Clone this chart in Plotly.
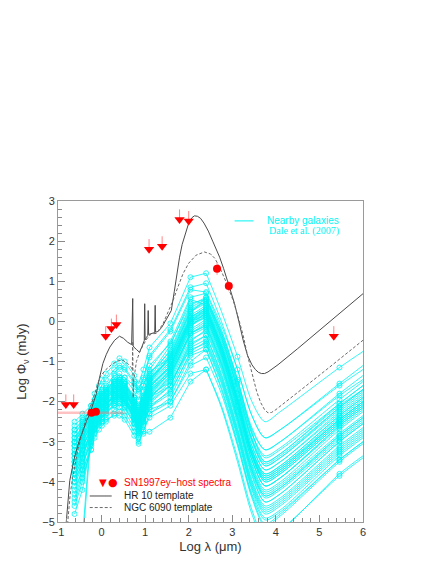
import plotly.graph_objects as go

# observed-frame band positions (log micron) of the Dale et al. photometry
BAND_X = [-0.62, -0.44, -0.24, -0.16, -0.06, 0.01, 0.10, 0.29, 0.41, 0.53,
          0.75, 0.85, 0.96, 1.10, 1.58, 2.04, 2.40]
# model continuation past 160 micron, radio point at 5.46
TAIL_X = [2.75, 3.12, 3.45, 3.75, 4.10, 5.46, 6.00]

GALAXY_BANDS = [
    [-3.0, -2.6, -2.1, -1.8, -1.6, -1.45, -1.3, -1.05, -0.92, -1.0, -1.35, -1.55, -1.2, -0.65, -0.05, 1.10, 1.20],
    [-3.3, -2.9, -2.3, -2.0, -1.75, -1.6, -1.45, -1.2, -1.1, -1.15, -1.5, -1.7, -1.45, -0.9, -0.25, 0.79, 0.73],
    [-2.8, -2.5, -2.2, -1.95, -1.8, -1.7, -1.6, -1.35, -1.3, -1.4, -1.75, -1.95, -1.6, -1.1, -0.55, 0.45, 0.55],
    [-3.6, -3.1, -2.5, -2.2, -2.0, -1.85, -1.75, -1.45, -1.4, -1.5, -1.9, -2.1, -1.85, -1.3, -0.75, 0.35, 0.55],
    [-4.3, -3.7, -2.8, -2.35, -2.05, -1.85, -1.7, -1.3, -1.15, -1.2, -1.55, -1.75, -1.6, -1.25, -0.9, 0.2, 0.6],
    [-3.1, -2.75, -2.35, -2.1, -1.9, -1.8, -1.7, -1.5, -1.45, -1.55, -1.95, -2.2, -1.9, -1.35, -0.6, 0.55, 0.40],
    [-3.4, -3.0, -2.6, -2.3, -2.1, -2.0, -1.9, -1.65, -1.6, -1.7, -2.1, -2.3, -2.0, -1.45, -0.9, 0.1, 0.30],
    [-2.7, -2.45, -2.2, -2.0, -1.85, -1.75, -1.65, -1.5, -1.45, -1.55, -1.95, -2.15, -1.85, -1.4, -0.95, 0.05, 0.25],
    [-3.9, -3.4, -2.7, -2.4, -2.2, -2.05, -1.95, -1.7, -1.6, -1.7, -2.15, -2.4, -2.05, -1.55, -0.85, 0.25, 0.45],
    [-3.2, -2.85, -2.5, -2.25, -2.05, -1.95, -1.85, -1.6, -1.55, -1.65, -2.05, -2.3, -2.0, -1.5, -1.0, 0.0, 0.15],
    [-3.5, -3.1, -2.75, -2.5, -2.3, -2.2, -2.1, -1.85, -1.8, -1.9, -2.3, -2.5, -2.25, -1.75, -1.2, -0.1, 0.10],
    [-3.0, -2.7, -2.45, -2.25, -2.1, -2.0, -1.95, -1.75, -1.7, -1.8, -2.2, -2.45, -2.2, -1.7, -1.25, -0.2, 0.05],
    [-4.0, -3.5, -2.9, -2.6, -2.35, -2.2, -2.1, -1.85, -1.75, -1.85, -2.3, -2.55, -2.25, -1.8, -1.3, -0.15, 0.25],
    [-3.3, -2.95, -2.65, -2.45, -2.3, -2.2, -2.15, -1.95, -1.9, -2.0, -2.4, -2.65, -2.4, -1.9, -1.45, -0.35, -0.15],
    [-2.9, -2.65, -2.4, -2.25, -2.15, -2.1, -2.05, -1.9, -1.85, -1.95, -2.35, -2.6, -2.35, -2.0, -1.6, -0.5, -0.2],
    [-4.6, -4.0, -3.1, -2.7, -2.4, -2.25, -2.1, -1.8, -1.7, -1.8, -2.2, -2.45, -2.2, -1.65, -1.1, 0.1, 0.35],
    [-3.7, -3.3, -2.9, -2.65, -2.5, -2.4, -2.3, -2.1, -2.05, -2.15, -2.55, -2.8, -2.5, -2.05, -1.6, -0.55, -0.35],
    [-3.1, -2.85, -2.6, -2.45, -2.35, -2.3, -2.25, -2.1, -2.05, -2.15, -2.55, -2.85, -2.55, -2.15, -1.8, -0.75, -0.5],
    [-2.6, -2.4, -2.25, -2.15, -2.05, -2.0, -1.95, -1.85, -1.85, -1.95, -2.4, -2.7, -2.5, -2.2, -2.0, -1.1, -0.9],
    [-4.2, -3.7, -3.2, -2.9, -2.7, -2.6, -2.5, -2.3, -2.25, -2.35, -2.75, -3.0, -2.75, -2.3, -1.9, -0.85, -0.7],
    [-3.5, -3.2, -2.85, -2.65, -2.55, -2.5, -2.45, -2.35, -2.35, -2.45, -2.85, -3.05, -2.7, -2.4, -2.1, -1.3, -1.2],
    [-3.9, -3.4, -2.7, -2.4, -2.15, -2.0, -1.85, -1.55, -1.4, -1.4, -1.6, -1.7, -1.4, -0.85, -0.2, 0.85, 0.95],
    [-4.5, -3.9, -3.2, -2.8, -2.55, -2.4, -2.25, -1.95, -1.85, -1.9, -2.3, -2.55, -2.25, -1.7, -1.15, 0.0, 0.3],
    [-3.0, -2.7, -2.4, -2.2, -2.05, -1.95, -1.85, -1.65, -1.6, -1.7, -2.1, -2.35, -2.05, -1.6, -1.05, 0.0, 0.2],
    [-3.3, -2.95, -2.55, -2.3, -2.1, -2.0, -1.9, -1.65, -1.55, -1.65, -2.05, -2.3, -1.95, -1.45, -0.95, 0.15, 0.40],
    [-3.8, -3.35, -2.85, -2.6, -2.4, -2.3, -2.2, -1.95, -1.9, -2.0, -2.4, -2.65, -2.35, -1.9, -1.4, -0.3, -0.05],
    [-2.9, -2.6, -2.3, -2.1, -1.95, -1.85, -1.75, -1.55, -1.5, -1.6, -2.0, -2.25, -1.95, -1.45, -0.8, 0.3, 0.50],
    [-4.8, -4.2, -3.0, -2.6, -2.35, -2.2, -2.1, -1.85, -1.8, -1.95, -2.4, -2.7, -2.8, -2.75, -2.4, -1.5, -1.2],
    [-4.1, -3.6, -3.0, -2.7, -2.5, -2.4, -2.3, -2.05, -2.0, -2.1, -2.5, -2.75, -2.45, -2.0, -1.5, -0.45, -0.25],
    [-3.4, -3.0, -2.6, -2.35, -2.2, -2.1, -2.0, -1.75, -1.7, -1.8, -2.2, -2.45, -2.1, -1.6, -1.15, -0.05, 0.10],
    [None, -5.4, -2.6, -2.25, -2.0, -1.85, -1.75, -1.5, -1.45, -1.55, -2.0, -2.3, -2.35, -2.3, -2.0, -1.0, -0.7],
    [None, -5.6, -2.8, -2.4, -2.1, -1.95, -1.85, -1.6, -1.55, -1.65, -2.05, -2.35, -2.1, -1.9, -1.6, -0.6, -0.35],
    [-3.6, -3.2, -2.8, -2.55, -2.4, -2.3, -2.2, -2.0, -1.95, -2.05, -2.45, -2.7, -2.4, -1.95, -1.35, -0.25, 0.0],
    [-3.2, -2.9, -2.5, -2.3, -2.15, -2.05, -1.95, -1.7, -1.65, -1.75, -2.15, -2.4, -2.1, -1.55, -1.0, 0.1, 0.35],
    [-2.5, -2.3, -2.1, -1.95, -1.85, -1.8, -1.75, -1.6, -1.6, -1.7, -2.1, -2.4, -2.2, -1.85, -1.5, -0.7, -0.55],
    [-3.8, -3.3, -2.75, -2.5, -2.3, -2.15, -2.05, -1.8, -1.75, -1.85, -2.25, -2.5, -2.15, -1.65, -1.1, 0.05, 0.3],
    [-3.3, -2.9, -2.45, -2.2, -2.0, -1.9, -1.8, -1.55, -1.5, -1.6, -2.0, -2.2, -1.9, -1.4, -0.7, 0.4, 0.6],
    [-3.7, -3.2, -2.65, -2.4, -2.25, -2.15, -2.05, -1.85, -1.8, -1.9, -2.3, -2.55, -2.3, -1.85, -1.25, -0.1, 0.15],
    [-2.8, -2.55, -2.3, -2.15, -2.0, -1.9, -1.85, -1.7, -1.65, -1.75, -2.15, -2.45, -2.15, -1.75, -1.3, -0.3, -0.1],
    [-4.4, -3.8, -3.05, -2.7, -2.45, -2.3, -2.2, -1.9, -1.8, -1.9, -2.3, -2.6, -2.3, -1.8, -1.2, -0.05, 0.2],
    [-3.1, -2.8, -2.45, -2.25, -2.1, -2.0, -1.9, -1.7, -1.65, -1.75, -2.15, -2.4, -2.05, -1.5, -0.85, 0.25, 0.5],
    [-3.5, -3.1, -2.7, -2.45, -2.3, -2.2, -2.1, -1.9, -1.85, -1.95, -2.35, -2.6, -2.3, -1.85, -1.35, -0.3, -0.1],
    [-4.0, -3.55, -3.0, -2.75, -2.6, -2.5, -2.4, -2.2, -2.15, -2.25, -2.65, -2.9, -2.6, -2.15, -1.7, -0.65, -0.45],
    [-3.0, -2.7, -2.35, -2.1, -1.95, -1.85, -1.75, -1.5, -1.45, -1.55, -1.9, -2.1, -1.75, -1.2, -0.5, 0.6, 0.7],
    [-3.6, -3.15, -2.6, -2.35, -2.15, -2.05, -1.95, -1.7, -1.65, -1.75, -2.2, -2.45, -2.15, -1.65, -1.1, 0.0, 0.25],
    [-2.7, -2.5, -2.3, -2.2, -2.1, -2.05, -2.0, -1.9, -1.9, -2.0, -2.45, -2.75, -2.5, -2.1, -1.75, -0.8, -0.6],
]

GALAXY_TAILS = [
    [0.25, -0.88, -2.0, -2.5, -2.25, -1.15, -0.75],
    [-0.1, -1.2, -2.35, -2.9, -2.7, -1.6, -1.2],
    [-0.3, -1.5, -2.7, -3.2, -3.0, -1.85, -1.45],
    [-0.35, -1.6, -2.8, -3.4, -3.2, -2.05, -1.6],
    [-0.25, -1.45, -2.75, -3.5, -3.3, -2.1, -1.7],
    [-0.55, -1.8, -3.0, -3.6, -3.4, -2.2, -1.75],
    [-0.6, -1.9, -3.1, -3.7, -3.5, -2.3, -1.85],
    [-0.7, -2.0, -3.2, -3.85, -3.65, -2.45, -2.0],
    [-0.45, -1.7, -2.95, -3.55, -3.35, -2.15, -1.7],
    [-0.8, -2.1, -3.35, -4.0, -3.8, -2.55, -2.1],
    [-0.85, -2.2, -3.45, -4.1, -3.9, -2.65, -2.2],
    [-0.9, -2.25, -3.55, -4.2, -4.0, -2.7, -2.25],
    [-0.7, -2.0, -3.3, -3.95, -3.75, -2.5, -2.05],
    [-1.1, -2.45, -3.75, -4.4, -4.2, -2.95, -2.5],
    [-1.15, -2.5, -3.8, -4.5, -4.3, -3.0, -2.55],
    [-0.6, -1.9, -3.2, -3.8, -3.6, -2.35, -1.9],
    [-1.3, -2.65, -3.95, -4.6, -4.4, -3.1, -2.65],
    [-1.45, -2.8, -4.1, -4.75, -4.55, -3.25, -2.8],
    [-1.8, -3.1, -4.4, -5.1, -4.85, -3.5, -3.05],
    [-1.65, -3.0, -4.3, -4.95, -4.75, -3.45, -3.0],
    [-2.1, -3.4, -4.7, -5.4, -5.2, -3.85, -3.4],
    [0.0, -1.2, -2.35, -2.9, -2.7, -1.55, -1.1],
    [-0.65, -1.95, -3.25, -3.85, -3.65, -2.4, -1.95],
    [-0.75, -2.05, -3.35, -3.95, -3.75, -2.5, -2.05],
    [-0.5, -1.8, -3.1, -3.7, -3.5, -2.25, -1.8],
    [-1.0, -2.35, -3.65, -4.3, -4.1, -2.85, -2.4],
    [-0.4, -1.65, -2.9, -3.5, -3.3, -2.05, -1.6],
    [-2.15, -3.5, -4.8, -5.5, -5.25, -3.8, -3.35],
    [-1.2, -2.55, -3.85, -4.5, -4.3, -3.0, -2.55],
    [-0.85, -2.15, -3.45, -4.1, -3.9, -2.6, -2.15],
    [-1.7, -3.05, -4.35, -5.05, -4.8, -3.45, -3.0],
    [-1.35, -2.7, -4.0, -4.65, -4.45, -3.15, -2.7],
    [-0.95, -2.3, -3.6, -4.25, -4.05, -2.8, -2.35],
    [-0.6, -1.9, -3.2, -3.8, -3.6, -2.35, -1.9],
    [-1.5, -2.85, -4.15, -4.8, -4.6, -3.3, -2.85],
    [-0.7, -2.0, -3.3, -3.9, -3.7, -2.45, -2.0],
    [-0.3, -1.55, -2.8, -3.35, -3.15, -1.95, -1.5],
    [-0.8, -2.15, -3.45, -4.1, -3.9, -2.6, -2.15],
    [-1.05, -2.4, -3.7, -4.35, -4.15, -2.9, -2.45],
    [-0.75, -2.05, -3.35, -4.0, -3.8, -2.55, -2.1],
    [-0.4, -1.7, -2.95, -3.6, -3.4, -2.15, -1.7],
    [-1.05, -2.4, -3.7, -4.35, -4.15, -2.85, -2.4],
    [-1.4, -2.75, -4.05, -4.7, -4.5, -3.2, -2.75],
    [-0.2, -1.45, -2.65, -3.2, -3.0, -1.8, -1.35],
    [-0.65, -2.0, -3.3, -3.9, -3.7, -2.45, -2.0],
    [-1.55, -2.9, -4.2, -4.9, -4.7, -3.35, -2.9],
]

# galaxies with a submm (850 micron) point
SCUBA_GALAXIES = [0, 1, 2, 5, 7, 9, 11, 36, 43]

HR10_X = [-0.84, -0.81, -0.73, -0.62, -0.52, -0.43, -0.35, -0.27, -0.2, -0.12, -0.05, 0.03, 0.11,
          0.19, 0.3, 0.41, 0.5, 0.6, 0.69, 0.715, 0.725, 0.74, 0.8, 0.87, 0.93, 0.98, 0.99, 1.0,
          1.03, 1.06, 1.07, 1.08, 1.12, 1.18, 1.22, 1.23, 1.24, 1.3, 1.38, 1.46, 1.53, 1.6, 1.67,
          1.73, 1.79, 1.85, 1.92, 2.0, 2.07, 2.13, 2.2, 2.27, 2.35, 2.45, 2.55, 2.63, 2.71, 2.8,
          2.94, 3.05, 3.15, 3.25, 3.35, 3.45, 3.53, 3.6, 3.67, 3.74, 3.82, 3.92, 4.05, 4.5, 5.0,
          5.5, 6.0]
HR10_Y = [-5.3, -5.0, -3.97, -3.38, -3.0, -2.72, -2.5, -2.3, -2.08, -1.8, -1.42, -1.05, -0.82,
          -0.64, -0.47, -0.37, -0.42, -0.52, -0.58, 0.57, -0.6, -0.64, -0.7, -0.77, -0.62, -0.48,
          0.44, -0.46, -0.4, -0.35, 0.27, -0.33, -0.31, -0.29, -0.28, 0.4, -0.27, -0.25, -0.15,
          0.0, 0.12, 0.27, 0.75, 1.2, 1.6, 1.92, 2.2, 2.45, 2.58, 2.63, 2.62, 2.57, 2.45, 2.25,
          2.0, 1.8, 1.6, 1.32, 0.86, 0.45, 0.0, -0.47, -0.85, -1.08, -1.2, -1.27, -1.3, -1.3,
          -1.26, -1.19, -1.08, -0.68, -0.23, 0.23, 0.69]

NGC6090_X = [-0.8, -0.78, -0.72, -0.66, -0.55, -0.45, -0.35, -0.2, -0.04, 0.1, 0.26, 0.4, 0.49,
             0.6, 0.68, 0.705, 0.715, 0.725, 0.74, 0.8, 0.87, 0.95, 1.05, 1.14, 1.26, 1.41, 1.52,
             1.64, 1.75, 1.87, 2.0, 2.17, 2.36, 2.5, 2.6, 2.71, 2.85, 3.02, 3.15, 3.25, 3.35,
             3.47, 3.56, 3.65, 3.74, 3.82, 3.9, 4.0, 4.3, 4.7, 5.2, 6.0]
NGC6090_Y = [-5.3, -5.0, -4.3, -3.88, -3.22, -2.8, -2.4, -1.95, -1.39, -1.2, -1.05, -0.98, -0.97,
             -1.05, -1.15, -1.22, -0.5, -1.9, -1.45, -1.0, -0.78, -0.6, -0.42, -0.31, -0.3, -0.06,
             0.2, 0.52, 0.85, 1.19, 1.45, 1.65, 1.73, 1.68, 1.57, 1.35, 1.0, 0.52, 0.05, -0.35,
             -0.85, -1.39, -1.75, -2.02, -2.2, -2.28, -2.27, -2.2, -1.95, -1.6, -1.17, -0.47]

# SN1997ey host: upper limits and detections
LIMIT_X = [-0.82, -0.64, 0.095, 0.225, 0.34, 1.09, 1.39, 1.79, 2.0, 5.33]
LIMIT_Y = [-2.07, -2.07, -0.37, -0.18, -0.08, 1.8, 1.87, 2.54, 2.5, -0.37]
DETECT_X = [-0.13, 2.65, 2.92]
DETECT_Y = [-2.25, 1.31, 0.88]
DETECT_ERR = [0.05, 0.15, 0.13]
SPEC_X = -0.23
SPEC_Y = -2.28
SPEC_XLO = -1.0
SPEC_XHI = 0.53

CYAN = "#00f4f4"
RED = "#ff0000"
FONT = "Liberation Sans, Arial, sans-serif"

fig = go.Figure()

for i, bands in enumerate(GALAXY_BANDS):
    tail = GALAXY_TAILS[i]
    fig.add_trace(go.Scatter(
        x=BAND_X, y=bands, mode="lines+markers", connectgaps=True,
        line=dict(color=CYAN, width=0.8),
        marker=dict(symbol="circle-open", size=5, color=CYAN, line=dict(width=0.8)),
        hoverinfo="skip",
    ))
    fig.add_trace(go.Scatter(
        x=[BAND_X[-1]] + TAIL_X, y=[bands[-1]] + tail, mode="lines",
        line=dict(color=CYAN, width=0.8, shape="spline", smoothing=0.8),
        hoverinfo="skip",
    ))

# radio points and submm points sit on the model tails
radio_y = [t[5] for t in GALAXY_TAILS]
fig.add_trace(go.Scatter(
    x=[TAIL_X[5]] * len(radio_y), y=radio_y, mode="markers",
    marker=dict(symbol="circle-open", size=5, color=CYAN, line=dict(width=0.8)),
    hoverinfo="skip",
))
scuba_y = [GALAXY_TAILS[i][1] for i in SCUBA_GALAXIES]
fig.add_trace(go.Scatter(
    x=[TAIL_X[1]] * len(scuba_y), y=scuba_y, mode="markers",
    marker=dict(symbol="circle-open", size=5, color=CYAN, line=dict(width=0.8)),
    hoverinfo="skip",
))

fig.add_trace(go.Scatter(x=HR10_X, y=HR10_Y, mode="lines",
                         line=dict(color="#4a4a4a", width=1)))
fig.add_trace(go.Scatter(x=NGC6090_X, y=NGC6090_Y, mode="lines",
                         line=dict(color="#6a6a6a", width=1, dash="3px,2px")))

fig.add_trace(go.Scatter(
    x=[SPEC_X], y=[SPEC_Y], mode="markers",
    marker=dict(symbol="circle", size=8, color=RED),
    error_x=dict(type="data", symmetric=False, array=[SPEC_XHI - SPEC_X],
                 arrayminus=[SPEC_X - SPEC_XLO], color="rgba(255,120,120,0.45)",
                 thickness=2.5, width=0),
))
fig.add_trace(go.Scatter(
    x=DETECT_X, y=DETECT_Y, mode="markers",
    marker=dict(symbol="circle", size=8, color=RED),
    error_y=dict(type="data", array=DETECT_ERR, color="rgba(255,80,80,0.6)",
                 thickness=1, width=0),
))
fig.add_trace(go.Scatter(
    x=LIMIT_X, y=LIMIT_Y, mode="markers",
    marker=dict(symbol="triangle-down", size=9, color=RED),
    error_y=dict(type="data", symmetric=False, array=[0.25] * len(LIMIT_X),
                 arrayminus=[0] * len(LIMIT_X), color="rgba(255,80,80,0.7)",
                 thickness=1, width=0),
))

axis_common = dict(
    showgrid=False, zeroline=False, showline=True, linecolor="#9a9a9a", linewidth=1,
    mirror=True, ticks="inside", ticklen=7, tickcolor="#8a8a8a", tickwidth=1,
    tickfont=dict(family=FONT, size=11, color="#333333"),
    minor=dict(ticks="inside", ticklen=4, tickcolor="#8a8a8a", dtick=0.2),
)
fig.update_xaxes(range=[-1, 6], dtick=1, tick0=0,
                 title=dict(text="Log λ (μm)", font=dict(family=FONT, size=13, color="#333333"),
                            standoff=4),
                 **axis_common)
fig.update_yaxes(range=[-5, 3], dtick=1, tick0=0,
                 title=dict(text="Log Φ<sub>ν</sub> (mJy)",
                            font=dict(family=FONT, size=13, color="#333333"), standoff=12),
                 **axis_common)

annotations = [
    dict(x=0.68, y=0.938, text="Nearby galaxies", font=dict(family=FONT, size=10, color=CYAN)),
    dict(x=0.684, y=0.907, text="Dale et al. (2007)",
         font=dict(family="Liberation Serif, Times New Roman, serif", size=10, color=CYAN)),
    dict(x=0.128, y=0.122, text="▼", font=dict(family="DejaVu Sans", size=10, color=RED)),
    dict(x=0.158, y=0.122, text="●", font=dict(family="DejaVu Sans", size=11, color=RED)),
    dict(x=0.209, y=0.122, text="SN1997ey−host spectra", font=dict(family=FONT, size=10, color=RED)),
    dict(x=0.209, y=0.081, text="HR 10 template", font=dict(family=FONT, size=10, color="#222222")),
    dict(x=0.209, y=0.045, text="NGC 6090 template", font=dict(family=FONT, size=10, color="#222222")),
]
for a in annotations:
    a.update(xref="paper", yref="paper", xanchor="left", yanchor="middle", showarrow=False)

shapes = [
    dict(type="line", xref="paper", yref="paper", x0=0.579, x1=0.641, y0=0.938, y1=0.938,
         line=dict(color=CYAN, width=1)),
    dict(type="line", xref="paper", yref="paper", x0=0.104, x1=0.176, y0=0.081, y1=0.081,
         line=dict(color="#4a4a4a", width=1)),
    dict(type="line", xref="paper", yref="paper", x0=0.104, x1=0.176, y0=0.045, y1=0.045,
         line=dict(color="#6a6a6a", width=1, dash="3px,2px")),
]

fig.update_layout(
    width=436, height=564,
    margin=dict(l=58, r=73, t=201, b=42),
    paper_bgcolor="white", plot_bgcolor="white",
    showlegend=False,
    font=dict(family=FONT, size=11, color="#333333"),
    annotations=annotations,
    shapes=shapes,
)

fig.write_html("out.html", config={"displayModeBar": False},
               post_script="document.body.style.margin = '0px';")
